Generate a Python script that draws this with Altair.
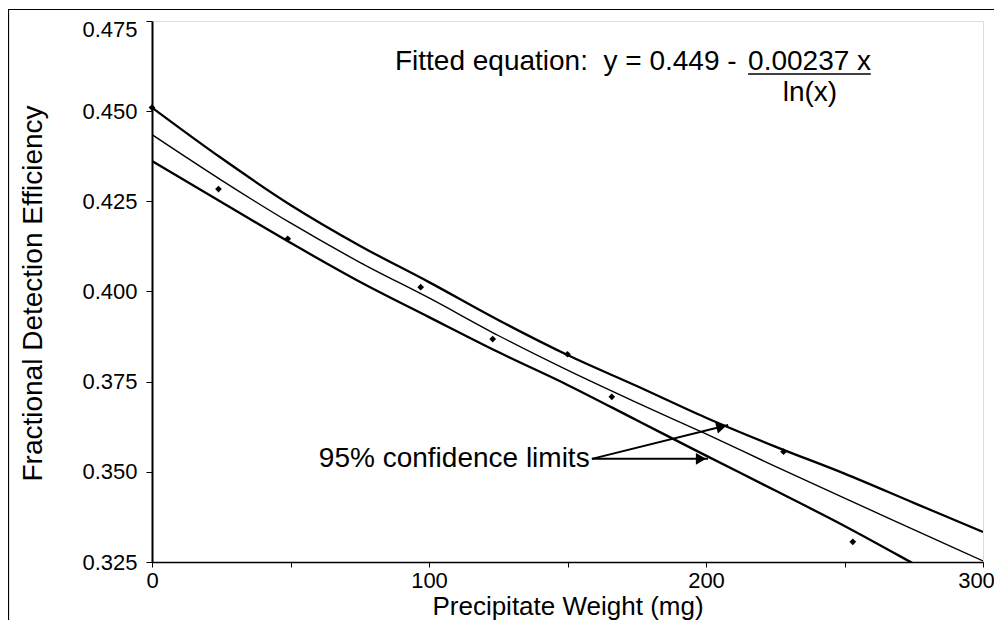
import altair as alt
import pandas as pd

# Fitted curve and 95% confidence bands
curve_x = [0, 25, 50, 75, 100, 125, 150, 175, 200, 225, 250, 275, 300]
upper = [0.4510, 0.4370, 0.4240, 0.4127, 0.4026, 0.3921, 0.3824, 0.3738, 0.3650, 0.3570, 0.3495, 0.3414, 0.3333]
fitted = [0.4435, 0.4309, 0.4190, 0.4081, 0.3982, 0.3878, 0.3782, 0.3692, 0.3605, 0.3515, 0.3427, 0.3340, 0.3253]
lower = [0.4362, 0.4248, 0.4135, 0.4027, 0.3929, 0.3832, 0.3741, 0.3643, 0.3545, 0.3448, 0.3350, 0.3245, 0.3138]

# Measured points
pt_x = [0, 24, 49, 97, 123, 150, 166, 228, 253]
pt_y = [0.4510, 0.4284, 0.4146, 0.4012, 0.3868, 0.3826, 0.3708, 0.3556, 0.3306]

# Annotations
eq_left_text = "Fitted equation:\u00a0\u00a0y = 0.449 -"
eq_left_pos = (87.7, 0.4614)
eq_num_text = "0.00237 x"
eq_num_pos = (215.2, 0.4614)
den_text = "ln(x)"
den_pos = (237.5, 0.4529)
underline = (215.2, 259.5, 0.4603)
ci_text = "95% confidence limits"
ci_pos = (158.0, 0.3536)
arrow_start = (158.8, 0.3536)
arrow_ends_x = [208.0, 200.7]
arrow_ends_y = [0.3630, 0.3536]
head_x = [205.6, 198.2]
head_y = [0.36253, 0.3536]
head_angle = [346, 0]

FONT = "Liberation Sans"
ANN = 28

curves = pd.DataFrame({
    "x": curve_x * 3,
    "y": upper + fitted + lower,
    "series": ["upper"] * len(curve_x) + ["fitted"] * len(curve_x) + ["lower"] * len(curve_x),
})
points = pd.DataFrame({"x": pt_x, "y": pt_y})

xscale = alt.Scale(domain=[0, 300], nice=False, zero=False)
yscale = alt.Scale(domain=[0.325, 0.475], nice=False, zero=False)

xaxis = alt.Axis(
    title="Precipitate Weight (mg)",
    values=[0, 50, 100, 150, 200, 250, 300],
    labelExpr="datum.value % 100 == 0 ? datum.label : ''",
    labelOffset={"condition": {"test": "datum.value >= 300", "value": -7}, "value": 0},
    grid=False, tickSize=5, tickColor="black", domainColor="black", domainWidth=1.5,
    labelFont=FONT, labelFontSize=22, labelColor="black", labelPadding=3,
    titleFont=FONT, titleFontSize=26, titleFontWeight="normal", titleColor="black",
    titleY=44, titleBaseline="middle", labelFlush=False,
)
yaxis = alt.Axis(
    title="Fractional Detection Efficiency",
    values=[0.325, 0.35, 0.375, 0.4, 0.425, 0.45, 0.475],
    format=".3f",
    labelOffset={"condition": {"test": "datum.value > 0.47", "value": 8}, "value": 0},
    grid=False, tickSize=6, tickColor="black", domainColor="black", domainWidth=2,
    labelFont=FONT, labelFontSize=22, labelColor="black", labelPadding=9,
    titleFont=FONT, titleFontSize=28, titleFontWeight="normal", titleColor="black",
    titleX=-119, titleY=272, titleBaseline="middle", labelFlush=False,
)

base_curves = alt.Chart(curves).encode(
    x=alt.X("x:Q", scale=xscale, axis=xaxis),
    y=alt.Y("y:Q", scale=yscale, axis=yaxis),
    detail="series:N",
)
bands = base_curves.transform_filter("datum.series != 'fitted'").mark_line(
    color="black", strokeWidth=2.3, clip=True, interpolate="monotone")
fit_line = base_curves.transform_filter("datum.series == 'fitted'").mark_line(
    color="black", strokeWidth=1.4, clip=True, interpolate="monotone")

pts = alt.Chart(points).mark_point(shape="diamond", filled=True, color="black", size=45, opacity=1).encode(
    x="x:Q", y="y:Q")

def text_layer(pos, txt, align, baseline, size):
    df = pd.DataFrame({"x": [pos[0]], "y": [pos[1]], "t": [txt]})
    return alt.Chart(df).mark_text(font=FONT, fontSize=size, align=align, baseline=baseline, color="black").encode(
        x="x:Q", y="y:Q", text="t:N")

eq1 = text_layer(eq_left_pos, eq_left_text, "left", "alphabetic", ANN)
eq2 = text_layer(eq_num_pos, eq_num_text, "left", "alphabetic", ANN)
den = text_layer(den_pos, den_text, "center", "alphabetic", ANN)
ul = alt.Chart(pd.DataFrame({"x": [underline[0]], "x2": [underline[1]], "y": [underline[2]]})).mark_rule(
    color="black", strokeWidth=1.5).encode(x="x:Q", x2="x2:Q", y="y:Q")
ci = text_layer(ci_pos, ci_text, "right", "middle", ANN)

arrows_df = pd.DataFrame({
    "x": [arrow_start[0]] * 2, "y": [arrow_start[1]] * 2,
    "x2": arrow_ends_x, "y2": arrow_ends_y,
})
arrow_lines = alt.Chart(arrows_df).mark_rule(color="black", strokeWidth=2).encode(
    x="x:Q", y="y:Q", x2="x2:Q", y2="y2:Q")
heads_df = pd.DataFrame({"x": head_x, "y": head_y, "a": head_angle})
heads = alt.Chart(heads_df).mark_point(shape="triangle-right", filled=True, color="black", size=140, opacity=1).encode(
    x="x:Q", y="y:Q", angle=alt.Angle("a:Q", scale=None))

frame = alt.Chart(pd.DataFrame({"d": [0]})).mark_rect(
    fill="white", fillOpacity=0, stroke="black", strokeWidth=1.2, clip=False).encode(
    x=alt.value(-143.5), x2=alt.value(1200), y=alt.value(-11.5), y2=alt.value(800))

chart = alt.layer(frame, bands, fit_line, pts, ul, eq1, eq2, den, ci, arrow_lines, heads).properties(
    width=831, height=541,
    autosize=alt.AutoSizeParams(type="none"),
    padding={"left": 144, "top": 13, "right": 11, "bottom": 58},
).configure_view(stroke="black", strokeWidth=1.5).configure(background="white")

chart.save("out.html", embed_options={"renderer": "svg", "actions": False})
